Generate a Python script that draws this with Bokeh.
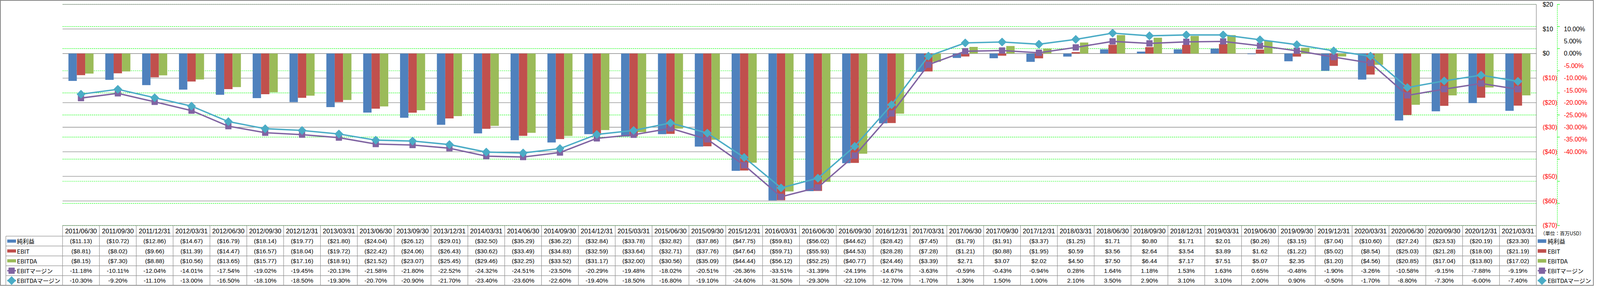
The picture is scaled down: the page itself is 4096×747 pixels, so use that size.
import numpy as np
from bokeh.plotting import figure
from bokeh.models import Range1d
from bokeh.core.properties import value
from bokeh.embed import file_html
from bokeh.resources import INLINE

# ---------------- data ----------------
dates = ["2011/06/30", "2011/09/30", "2011/12/31", "2012/03/31", "2012/06/30", "2012/09/30",
         "2012/12/31", "2013/03/31", "2013/06/30", "2013/09/30", "2013/12/31", "2014/03/31",
         "2014/06/30", "2014/09/30", "2014/12/31", "2015/03/31", "2015/06/30", "2015/09/30",
         "2015/12/31", "2016/03/31", "2016/06/30", "2016/09/30", "2016/12/31", "2017/03/31",
         "2017/06/30", "2017/09/30", "2017/12/31", "2018/03/31", "2018/06/30", "2018/09/30",
         "2018/12/31", "2019/03/31", "2019/06/30", "2019/09/30", "2019/12/31", "2020/03/31",
         "2020/06/30", "2020/09/30", "2020/12/31", "2021/03/31"]

net_income = [-11.13, -10.72, -12.86, -14.67, -16.79, -18.14, -19.77, -21.80, -24.04, -26.12,
              -29.01, -32.50, -35.29, -36.22, -32.84, -33.78, -32.82, -37.86, -47.75, -59.81,
              -56.02, -44.62, -28.42, -7.45, -1.79, -1.91, -3.37, -1.25, 1.71, 0.80,
              1.71, 2.01, -0.26, -3.15, -7.04, -10.60, -27.24, -23.53, -20.19, -23.30]

ebit = [-8.81, -8.02, -9.66, -11.39, -14.47, -16.57, -18.04, -19.72, -22.42, -24.06,
        -26.43, -30.62, -33.49, -34.83, -32.59, -33.64, -32.71, -37.76, -47.64, -59.71,
        -55.93, -44.53, -28.28, -7.28, -1.21, -0.88, -1.95, 0.59, 3.56, 2.64,
        3.54, 3.89, 1.62, -1.22, -5.02, -8.54, -25.03, -21.28, -18.00, -21.19]

ebitda = [-8.15, -7.30, -8.88, -10.56, -13.65, -15.77, -17.16, -18.91, -21.52, -23.07,
          -25.45, -29.46, -32.25, -33.52, -31.17, -32.00, -30.56, -35.09, -44.44, -56.12,
          -52.25, -40.77, -24.46, -3.39, 2.71, 3.07, 2.02, 4.50, 7.50, 6.44,
          7.17, 7.51, 5.07, 2.35, -1.20, -4.56, -20.85, -17.04, -13.80, -17.02]

ebit_margin = [-11.18, -10.11, -12.04, -14.01, -17.54, -19.02, -19.45, -20.13, -21.58, -21.80,
               -22.52, -24.32, -24.51, -23.50, -20.29, -19.48, -18.02, -20.51, -26.36, -33.51,
               -31.39, -24.19, -14.67, -3.63, -0.59, -0.43, -0.94, 0.28, 1.64, 1.18,
               1.53, 1.63, 0.65, -0.48, -1.90, -3.26, -10.58, -9.15, -7.88, -9.19]

ebitda_margin = [-10.30, -9.20, -11.10, -13.00, -16.50, -18.10, -18.50, -19.30, -20.70, -20.90,
                 -21.70, -23.40, -23.60, -22.60, -19.40, -18.50, -16.80, -19.10, -24.60, -31.50,
                 -29.30, -22.10, -12.70, -1.70, 1.30, 1.50, 1.00, 2.10, 3.50, 2.90,
                 3.10, 3.10, 2.00, 0.90, -0.50, -1.70, -8.80, -7.30, -6.00, -7.40]

usd_ticks = [20, 10, 0, -10, -20, -30, -40, -50, -60, -70]
pct_ticks = [10, 5, 0, -5, -10, -15, -20, -25, -30, -35, -40]

series_names = ["純利益", "EBIT", "EBITDA", "EBITマージン", "EBITDAマージン"]
unit_label = "（単位：百万USD）"

# ---------------- styles ----------------
C_NI, C_EBIT, C_EBITDA = "#4F81BD", "#C0504D", "#9BBB59"
C_EM, C_EDM = "#8064A2", "#4BACC6"
GRID = "#868686"
TBL = "#8c8c8c"
GREEN = "#00ff00"
RED = "#ff0000"
NUM_FONT = value("Liberation Sans")
JP_FONT = value("Noto Sans CJK JP")

# ---------------- layout (reference pixels) ----------------
REF_W, REF_H = 7052, 1286
W, H = 4080, 731
PLOT_L, PLOT_R = 276, 6797
PLOT_T, PLOT_B = 19, 1014
HDR_B, ROW_H = 1062, 44.4
n = len(dates)
CW = (PLOT_R - PLOT_L) / n


def cx(px):
    return (px - PLOT_L) / CW


usd_pp = (PLOT_B - PLOT_T) / (usd_ticks[0] - usd_ticks[-1])
pct_pp = (PLOT_B - PLOT_T) / (pct_ticks[0] - pct_ticks[-1])

x_range = Range1d(cx(0), cx(REF_W))
usd_range = Range1d(usd_ticks[0] - (REF_H - PLOT_T) / usd_pp, usd_ticks[0] + PLOT_T / usd_pp)
pct_range = Range1d(pct_ticks[0] - (REF_H - PLOT_T) / pct_pp, pct_ticks[0] + PLOT_T / pct_pp)
tbl_range = Range1d((REF_H - HDR_B) / ROW_H, -HDR_B / ROW_H)
hdr_top = (PLOT_B - HDR_B) / ROW_H
n_rows = len(series_names)

p = figure(width=W, height=H, x_range=x_range, y_range=usd_range,
           output_backend="svg", toolbar_location=None, tools="",
           x_axis_location=None, y_axis_location=None, min_border=0)
p.extra_y_ranges = {"pct": pct_range, "tbl": tbl_range}
p.xgrid.visible = False
p.ygrid.visible = False
p.outline_line_color = GRID
p.outline_line_width = 3
p.background_fill_color = "white"
p.border_fill_color = "white"

idx = np.arange(n) + 0.5

# gridlines
p.segment(x0=[0] * len(pct_ticks), x1=[n] * len(pct_ticks), y0=pct_ticks, y1=pct_ticks,
          y_range_name="pct", line_color=GREEN, line_width=1.2, line_dash="3 2")
p.segment(x0=[0] * len(usd_ticks), x1=[n] * len(usd_ticks), y0=usd_ticks, y1=usd_ticks,
          line_color=GRID, line_width=1.3)

# bars
bw = 37 / CW
for off, vals, col in [(-bw, net_income, C_NI), (0, ebit, C_EBIT), (bw, ebitda, C_EBITDA)]:
    p.vbar(x=idx + off, top=vals, bottom=0, width=bw, fill_color=col, line_color=None)

# margin lines
p.line(idx, ebit_margin, y_range_name="pct", line_color=C_EM, line_width=3.6)
p.scatter(idx, ebit_margin, y_range_name="pct", marker="square", size=14.5,
          fill_color=C_EM, line_color=C_EM, line_width=1.5, line_join="round")
p.line(idx, ebitda_margin, y_range_name="pct", line_color=C_EDM, line_width=3.6)
p.scatter(idx, ebitda_margin, y_range_name="pct", marker="square", angle=np.pi / 4, size=14.5,
          fill_color=C_EDM, line_color=C_EDM, line_width=1.5, line_join="round")

# value axis ($) on the right
p.segment(x0=[n], x1=[n], y0=[usd_ticks[0]], y1=[usd_range.start], line_color=GRID, line_width=1.3)
usd_labels = [f"(${abs(t)})" if t < 0 else f"${t}" for t in usd_ticks]
usd_colors = [RED if t < 0 else "black" for t in usd_ticks]
p.text(x=[cx(6825)] * len(usd_ticks), y=usd_ticks, text=usd_labels, text_color=usd_colors,
       text_align="left", text_baseline="middle", text_font_size="16px", text_font=NUM_FONT)

# percent axis on the right
ax_x = cx(6890)
p.segment(x0=[ax_x], x1=[ax_x], y0=[pct_ticks[0]], y1=[pct_ticks[-1]], y_range_name="pct",
          line_color=GREEN, line_width=1.2, line_dash="3 2")
p.segment(x0=[ax_x] * len(pct_ticks), x1=[cx(6901)] * len(pct_ticks), y0=pct_ticks, y1=pct_ticks,
          y_range_name="pct", line_color=GREEN, line_width=1.2)
pct_labels = [f"{t:.2f}%" for t in pct_ticks]
pct_colors = [RED if t < 0 else "black" for t in pct_ticks]
p.text(x=[cx(6919)] * len(pct_ticks), y=pct_ticks, text=pct_labels, text_color=pct_colors,
       text_align="left", text_baseline="middle", text_font_size="16px", text_font=NUM_FONT)

# ---------------- data table ----------------
# grid lines of the table
p.segment(x0=list(range(n)), x1=list(range(n)), y0=[hdr_top] * n, y1=[n_rows] * n,
          y_range_name="tbl", line_color=TBL, line_width=1.2)
p.segment(x0=[cx(25)], x1=[cx(25)], y0=[0], y1=[n_rows], y_range_name="tbl",
          line_color=TBL, line_width=1.2)
p.segment(x0=[cx(25)] * (n_rows + 1), x1=[n] * (n_rows + 1), y0=list(range(n_rows + 1)),
          y1=list(range(n_rows + 1)), y_range_name="tbl", line_color=TBL, line_width=1.3)

# header (dates)
p.text(x=idx, y=[hdr_top / 2] * n, text=dates, y_range_name="tbl", text_align="center",
       text_baseline="middle", text_font_size="16.5px", text_font=NUM_FONT, text_color="black")


def fmt_usd(v):
    return f"(${abs(v):.2f})" if v < 0 else f"${v:.2f}"


rows = [[fmt_usd(v) for v in net_income],
        [fmt_usd(v) for v in ebit],
        [fmt_usd(v) for v in ebitda],
        [f"{v:.2f}%" for v in ebit_margin],
        [f"{v:.2f}%" for v in ebitda_margin]]
for k, r in enumerate(rows):
    p.text(x=idx, y=[k + 0.5] * n, text=r, y_range_name="tbl", text_align="center",
           text_baseline="middle", text_font_size="15.5px", text_font=NUM_FONT, text_color="black")

# legend keys (in the table's first column and on the right side)
bar_cols = [C_NI, C_EBIT, C_EBITDA]


def legend_keys(x_left, x_right, half_h, x_text):
    for k in range(3):
        p.quad(left=[x_left], right=[x_right], top=[k + 0.5 - half_h], bottom=[k + 0.5 + half_h],
               y_range_name="tbl", fill_color=bar_cols[k], line_color=None)
    xm = (x_left + x_right) / 2
    p.segment(x0=[x_left, x_left], x1=[x_right, x_right], y0=[3.5, 4.5], y1=[3.5, 4.5],
              y_range_name="tbl", line_color=[C_EM, C_EDM], line_width=3.6)
    p.scatter([xm], [3.5], y_range_name="tbl", marker="square", size=14.5,
              fill_color=C_EM, line_color=C_EM, line_width=1.5)
    p.scatter([xm], [4.5], y_range_name="tbl", marker="square", angle=np.pi / 4, size=14.5,
              fill_color=C_EDM, line_color=C_EDM, line_width=1.5)
    p.text(x=[x_text] * n_rows, y=[k + 0.5 for k in range(n_rows)], text=series_names,
           y_range_name="tbl", text_align="left", text_baseline="middle",
           text_font_size="15px", text_font=JP_FONT, text_color="black")


legend_keys(cx(31), cx(70), 7 / ROW_H, cx(74))
legend_keys(cx(6803), cx(6841), 8 / ROW_H, cx(6847))

# unit label
p.text(x=[cx(6912)], y=[(1048 - HDR_B) / ROW_H], text=[unit_label], y_range_name="tbl",
       text_align="center", text_baseline="middle", text_font_size="12.5px",
       text_font=JP_FONT, text_color="black")

open("out.html", "w").write(file_html(p, INLINE))
